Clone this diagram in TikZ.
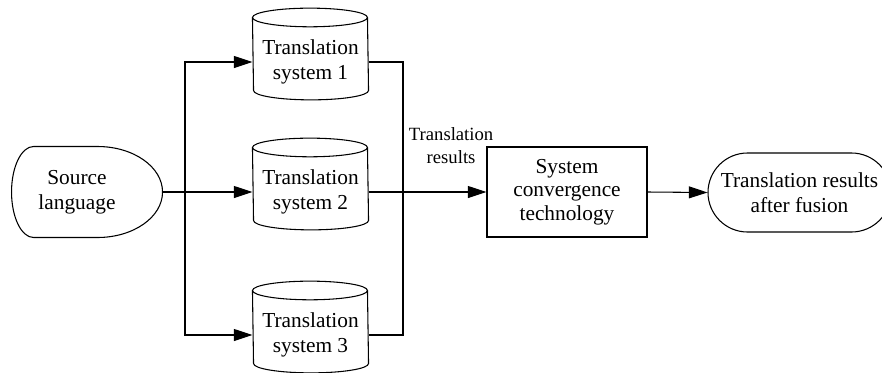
\documentclass[tikz,border=0pt]{standalone}
\usepackage{fontspec}
\setmainfont{Liberation Serif}
\usetikzlibrary{arrows.meta,shapes.misc}

\begin{document}
\begin{tikzpicture}[x=0.75pt,y=0.75pt,line width=0.8pt,
    every node/.style={font=\fontsize{16}{19}\selectfont,align=center},
    sysbody/.style={minimum width=86.25pt,minimum height=42pt,inner sep=0pt},
    flow/.style={-{Triangle[length=14pt,width=9pt]}}]
  \useasboundingbox (0,0) rectangle (882,-372);

  \node[minimum width=127.5pt,minimum height=68.25pt,inner sep=0pt] (src) at (77,-192) {Source\\language};
  \draw (src.east) arc[start angle=0,end angle=90,x radius=48.75pt,y radius=34.125pt]
    -- ++(-48pt,0) arc[start angle=90,end angle=270,x radius=16.5pt,y radius=34.125pt]
    -- ++(48pt,0) arc[start angle=-90,end angle=0,x radius=48.75pt,y radius=34.125pt] -- cycle;

  \foreach \i/\y in {1/-62,2/-192,3/-335} {
    \node[sysbody] (sys\i) at (310.5,\y) {Translation\\system \i};
    \draw ([yshift=12pt]sys\i.north west) arc[start angle=180,end angle=0,x radius=43.125pt,y radius=7pt]
      -- (sys\i.south east) arc[start angle=0,end angle=-180,x radius=43.125pt,y radius=7pt] -- cycle;
    \draw ([yshift=12pt]sys\i.north west) arc[start angle=180,end angle=360,x radius=43.125pt,y radius=7pt];
  }

  \node[draw,minimum width=120pt,minimum height=67.5pt,font=\fontsize{16}{17.6}\selectfont] (conv) at (567,-192) {System\\convergence\\technology};
  \node[draw,rounded rectangle,minimum width=137.25pt,minimum height=59.25pt,inner sep=0pt] (res) at (799.5,-192.5) {Translation results\\after fusion};

  \coordinate (fork) at (185,-192);
  \coordinate (join) at (403,-62);
  \draw (src.east) -- (fork);
  \draw[flow] (fork) -- (sys2.west);
  \draw[flow] (fork) |- (sys1.west);
  \draw[flow] (fork) |- (sys3.west);
  \draw (sys1.east) -- (join) |- (sys3.east);
  \draw[flow] (sys2.east) -- node[pos=0.7,above=21pt,inner sep=0pt,font=\fontsize{14}{17}\selectfont] {Translation\\results} (conv.west);
  \draw[flow] (conv.east) -- (res.west);
\end{tikzpicture}
\end{document}
